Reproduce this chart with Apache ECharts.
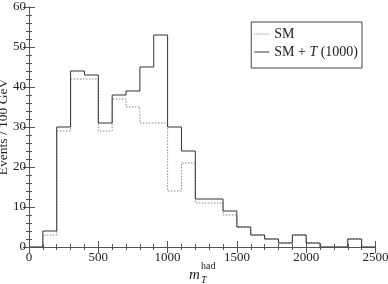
<!DOCTYPE html>
<html>
<head>
<meta charset="utf-8">
<script src="https://cdn.jsdelivr.net/npm/echarts@6/dist/echarts.min.js"></script>
<style>
html,body{margin:0;padding:0;background:#fff;}
#c{width:388px;height:284px;}
</style>
</head>
<body>
<div id="c"></div>
<script>
// Bin left edges (GeV), width 100 GeV; last entry closes the histogram
var binEdges = [0,100,200,300,400,500,600,700,800,900,1000,1100,1200,1300,1400,1500,1600,1700,1800,1900,2000,2100,2200,2300,2400,2500];
// SM (dotted)
var smValues = [0,3,29,42,42,29,37,35,31,31,14,21,11,11,8,5,3,2,1,3,1,0,0,2,0];
// SM + T(1000) (solid)
var smTValues = [0,4,30,44,43,31,38,39,45,53,30,24,12,12,9,5,3,2,1,3,1,0,0,2,0];
var xTicks = [0,500,1000,1500,2000,2500];
var yTicks = [0,10,20,30,40,50,60];

function stepData(vals){
  var d = [];
  for (var i = 0; i < vals.length; i++) d.push([binEdges[i], vals[i]]);
  d.push([binEdges[binEdges.length-1], vals[vals.length-1]]);
  return d;
}

var FONT = '"Liberation Serif", "DejaVu Serif", serif';
var frameColor = '#555';
var solidColor = '#333';
var dotColor = '#8a8a8a';
var chart = echarts.init(document.getElementById('c'), null, {renderer:'canvas'});

function plain(v){ return String(v); }

function xAxisDef(pos, labels){
  return {
    type:'value', position:pos, min:xTicks[0], max:xTicks[xTicks.length-1], interval:500,
    axisLine:{show:true, lineStyle:{color:frameColor, width:1}},
    axisTick:{show:true, inside:true, length:6, lineStyle:{color:frameColor}},
    minorTick:{show:true, splitNumber:5, length:3, lineStyle:{color:frameColor}},
    splitLine:{show:false},
    axisLabel:{show:labels, margin:4, color:'#222', fontFamily:FONT, fontSize:13, formatter:plain}
  };
}
function yAxisDef(pos, labels){
  return {
    type:'value', position:pos, min:yTicks[0], max:yTicks[yTicks.length-1], interval:10,
    axisLine:{show:true, lineStyle:{color:frameColor, width:1}},
    axisTick:{show:true, inside:true, length:6, lineStyle:{color:frameColor}},
    minorTick:{show:true, splitNumber:5, length:3, lineStyle:{color:frameColor}},
    splitLine:{show:false},
    axisLabel:{show:labels, margin:3, color:'#222', fontFamily:FONT, fontSize:13, formatter:plain},
    name: labels ? 'Events / 100 GeV' : '',
    nameLocation:'middle', nameGap:19, nameMoveOverlap:false,
    nameTextStyle:{fontFamily:FONT, fontSize:13.5, color:'#222'}
  };
}

var dotIcon = 'path://M0,0H1V1H0ZM2,0H3V1H2ZM4,0H5V1H4ZM6,0H7V1H6ZM8,0H9V1H8ZM10,0H11V1H10ZM12,0H13V1H12ZM14,0H15V1H14Z';
var lineIcon = 'path://M0,0H15V1H0Z';

chart.setOption({
  animation:false,
  backgroundColor:'#fff',
  grid:{left:29, right:12.5, top:7, bottom:37, containLabel:false, outerBoundsMode:'none'},
  xAxis:[xAxisDef('bottom', true), xAxisDef('top', false)],
  yAxis:[yAxisDef('left', true), yAxisDef('right', false)],
  legend:{
    orient:'vertical', right:26, top:22,
    backgroundColor:'#fff', borderColor:'#444', borderWidth:1, borderRadius:0,
    padding:[5,4,9,3], itemGap:4, itemWidth:15, itemHeight:1,
    textStyle:{fontFamily:FONT, fontSize:14, color:'#222', lineHeight:14,
      rich:{r:{fontFamily:FONT, fontSize:14, color:'#222', lineHeight:14}, i:{fontFamily:FONT, fontSize:14, fontStyle:'italic', color:'#222', lineHeight:14}}},
    formatter:function(n){
      if (n === 'SM') return '{r|SM}';
      return '{r|SM + }{i|T}{r| (1000)}';
    },
    data:[
      {name:'SM', icon:dotIcon, itemStyle:{color:dotColor}},
      {name:'SM + T (1000)', icon:lineIcon, itemStyle:{color:solidColor}}
    ]
  },
  series:[
    {name:'SM', type:'line', step:'end', symbol:'none', xAxisIndex:0, yAxisIndex:0,
     data:stepData(smValues), lineStyle:{color:dotColor, width:1, type:[1.5,1.5]}, itemStyle:{color:dotColor}, z:2},
    {name:'SM + T (1000)', type:'line', step:'end', symbol:'none', xAxisIndex:0, yAxisIndex:0,
     data:stepData(smTValues), lineStyle:{color:solidColor, width:1}, itemStyle:{color:solidColor}, z:3}
  ],
  graphic:[
    {type:'text', left:189, top:268, style:{text:'m', font:'italic 15px ' + FONT, fill:'#222'}},
    {type:'text', left:201, top:261, style:{text:'had', font:'10px ' + FONT, fill:'#222'}},
    {type:'text', left:201, top:275, style:{text:'T', font:'italic 10px ' + FONT, fill:'#222'}}
  ]
});
</script>
</body>
</html>
